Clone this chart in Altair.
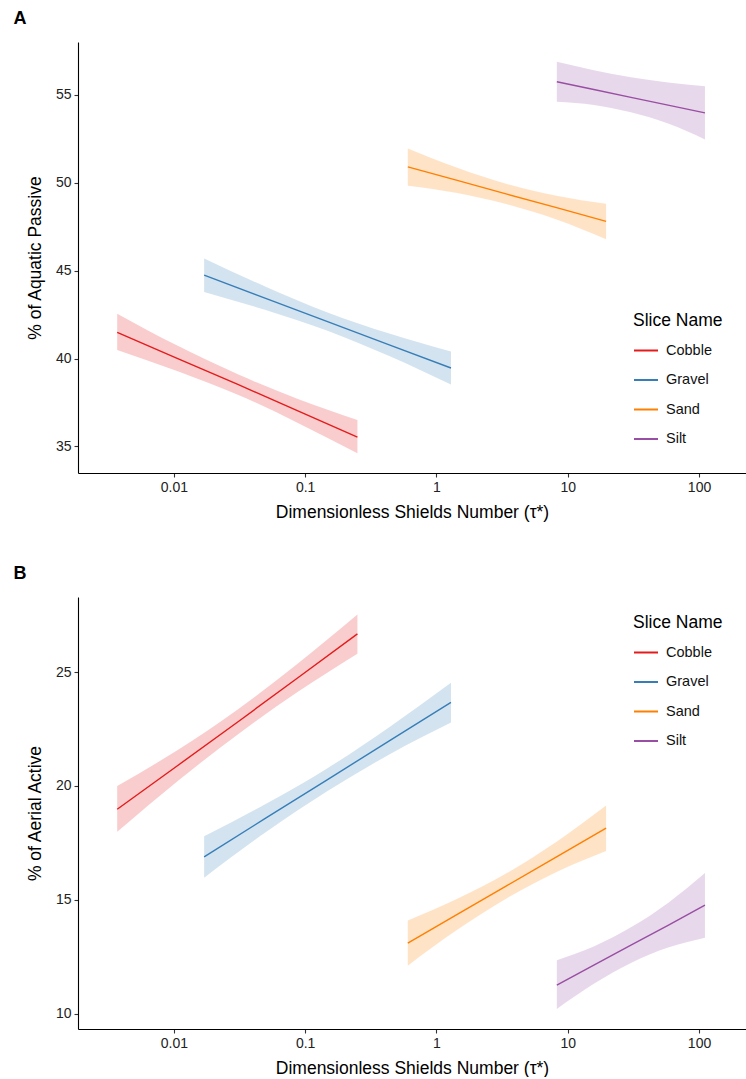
import altair as alt
import pandas as pd

# ---------------- data ----------------
slices = ["Cobble", "Gravel", "Sand", "Silt"]
colors = ["#E41A1C", "#377EB8", "#FF7F00", "#984EA3"]

# Dimensionless Shields number sample positions for each slice
tau = {
    "Cobble": [0.0037, 0.0107, 0.031, 0.088, 0.25],
    "Gravel": [0.017, 0.050, 0.148, 0.437, 1.29],
    "Sand":   [0.605, 1.44, 3.44, 8.22, 19.6],
    "Silt":   [8.26, 15.8, 30.3, 58.1, 111.0],
}

# Panel A: % of Aquatic Passive (fit, lower, upper)
aquatic_fit = {
    "Cobble": [41.49, 40.00, 38.51, 37.02, 35.53],
    "Gravel": [44.74, 43.42, 42.10, 40.78, 39.46],
    "Sand":   [50.90, 50.13, 49.35, 48.58, 47.80],
    "Silt":   [55.74, 55.30, 54.85, 54.41, 53.97],
}
aquatic_lo = {
    "Cobble": [40.49, 39.28, 37.93, 36.34, 34.62],
    "Gravel": [43.79, 42.76, 41.58, 40.14, 38.52],
    "Sand":   [49.83, 49.41, 48.77, 47.90, 46.78],
    "Silt":   [54.60, 54.42, 54.00, 53.36, 52.46],
}
aquatic_hi = {
    "Cobble": [42.55, 40.72, 39.09, 37.70, 36.50],
    "Gravel": [45.69, 44.08, 42.62, 41.42, 40.40],
    "Sand":   [51.95, 50.85, 49.93, 49.26, 48.80],
    "Silt":   [56.88, 56.40, 56.00, 55.70, 55.48],
}

# Panel B: % of Aerial Active (fit, lower, upper)
aerial_fit = {
    "Cobble": [18.98, 20.90, 22.83, 24.75, 26.67],
    "Gravel": [16.89, 18.59, 20.28, 21.98, 23.67],
    "Sand":   [13.11, 14.37, 15.63, 16.89, 18.15],
    "Silt":   [11.26, 12.14, 13.02, 13.89, 14.77],
}
aerial_lo = {
    "Cobble": [17.99, 20.22, 22.28, 24.13, 25.80],
    "Gravel": [15.98, 17.97, 19.78, 21.38, 22.78],
    "Sand":   [12.12, 13.69, 15.08, 16.23, 17.15],
    "Silt":   [10.22, 11.32, 12.24, 12.91, 13.34],
}
aerial_hi = {
    "Cobble": [20.00, 21.58, 23.38, 25.37, 27.52],
    "Gravel": [17.80, 19.21, 20.78, 22.58, 24.53],
    "Sand":   [14.10, 15.05, 16.18, 17.55, 19.14],
    "Silt":   [12.36, 12.96, 13.80, 14.87, 16.18],
}

x_ticks = [0.01, 0.1, 1, 10, 100]
x_domain = [0.00186, 228]
x_title = "Dimensionless Shields Number (τ*)"

FONT = "Liberation Sans"
W = 668


def build_df(fit, lo, hi):
    rows = []
    for s in slices:
        for t, f, l, h in zip(tau[s], fit[s], lo[s], hi[s]):
            rows.append({"slice": s, "band": s, "tau": t, "fit": f, "lo": l, "hi": h})
    return pd.DataFrame(rows)


def panel(letter, fit, lo, hi, ytitle, ydomain, yticks, height, legend_y):
    df = build_df(fit, lo, hi)
    xenc = alt.X(
        "tau:Q",
        scale=alt.Scale(type="log", domain=x_domain, nice=False),
        axis=alt.Axis(values=x_ticks, format="~g", title=x_title),
    )
    yscale = alt.Scale(domain=ydomain, nice=False, zero=False)
    yaxis = alt.Axis(values=yticks, title=ytitle)
    # band fill scale: data-driven domain (alphabetical = same order as slices)
    band = alt.Chart(df).mark_area(opacity=0.22, interpolate="monotone").encode(
        x=xenc,
        y=alt.Y("lo:Q", scale=yscale, axis=yaxis),
        y2="hi:Q",
        fill=alt.Fill("band:N", scale=alt.Scale(range=colors), legend=None),
    )
    line = alt.Chart(df).mark_line(strokeWidth=1.4).encode(
        x=xenc,
        y=alt.Y("fit:Q", scale=yscale, axis=yaxis),
        color=alt.Color(
            "slice:N",
            scale=alt.Scale(domain=slices, range=colors),
            legend=alt.Legend(
                title="Slice Name",
                orient="none",
                legendX=555,
                legendY=legend_y,
                symbolType="stroke",
                symbolStrokeWidth=2,
                symbolSize=576,
                rowPadding=9.5,
                labelOffset=7,
                titlePadding=8,
            ),
        ),
    )
    return alt.layer(band, line).properties(
        width=W,
        height=height,
        title=alt.TitleParams(
            letter, anchor="start", frame="bounds", fontSize=18,
            fontWeight="bold", font=FONT, color="black", dx=-13, offset=14,
        ),
    )


panel_a = panel("A", aquatic_fit, aquatic_lo, aquatic_hi, "% of Aquatic Passive",
                [33.49, 58.0], [35, 40, 45, 50, 55], 431, 270)
panel_b = panel("B", aerial_fit, aerial_lo, aerial_hi, "% of Aerial Active",
                [9.34, 28.29], [10, 15, 20, 25], 432, 17)

chart = alt.vconcat(panel_a, panel_b, spacing=44).resolve_scale(
    color="independent", fill="independent"
).resolve_legend(color="independent", fill="independent").properties(
    padding={"left": 13, "top": 10, "right": 0, "bottom": 0}
).configure_view(stroke=None).configure_axis(
    grid=False,
    domainColor="black",
    domainWidth=1.1,
    tickColor="#333333",
    tickSize=4,
    tickWidth=1.1,
    labelFont=FONT,
    labelFontSize=14,
    labelColor="#222222",
    labelPadding=3,
    titleFont=FONT,
    titleFontSize=17.5,
    titleFontWeight="normal",
    titleColor="black",
).configure_axisY(titlePadding=11).configure_axisX(titlePadding=9).configure_legend(
    titleFont=FONT,
    titleFontSize=17.5,
    titleFontWeight="normal",
    titleColor="black",
    labelFont=FONT,
    labelFontSize=14.5,
    labelColor="#111111",
)

chart.save("out.html", embed_options={"renderer": "svg", "actions": False})
